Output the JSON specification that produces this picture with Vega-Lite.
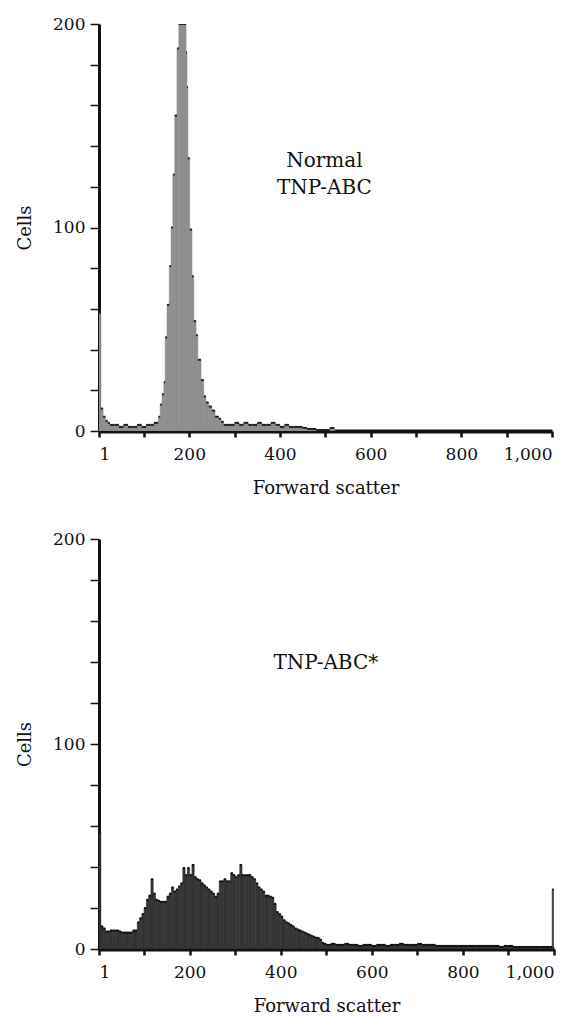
{
  "$schema": "https://vega.github.io/schema/vega-lite/v6.json",
  "padding": {"top": 15, "left": 16, "right": 6, "bottom": 0},
  "spacing": 33,
  "config": {
    "font": "DejaVu Serif",
    "view": {"stroke": null},
    "axis": {
      "grid": false,
      "domainColor": "#111111",
      "tickColor": "#111111",
      "labelColor": "#111111",
      "titleColor": "#111111",
      "labelFont": "DejaVu Serif",
      "titleFont": "DejaVu Serif",
      "labelFontSize": 17,
      "titleFontSize": 18,
      "titleFontWeight": "normal",
      "labelOverlap": false
    },
    "axisX": {
      "tickSize": 6,
      "tickWidth": 2.5,
      "domainWidth": 4,
      "labelPadding": 9,
      "titlePadding": 17
    },
    "axisY": {
      "tickSize": 9,
      "tickWidth": 1.5,
      "domainWidth": 3,
      "labelPadding": 5,
      "titlePadding": 18
    }
  },
  "datasets": {
    "normal": [
      {"start": 1, "end": 5, "cells": 58},
      {"start": 5, "end": 10, "cells": 11},
      {"start": 10, "end": 15, "cells": 7},
      {"start": 15, "end": 20, "cells": 5},
      {"start": 20, "end": 25, "cells": 4},
      {"start": 25, "end": 35, "cells": 3},
      {"start": 35, "end": 45, "cells": 3},
      {"start": 45, "end": 55, "cells": 2},
      {"start": 55, "end": 65, "cells": 3},
      {"start": 65, "end": 75, "cells": 2},
      {"start": 75, "end": 85, "cells": 2},
      {"start": 85, "end": 95, "cells": 3},
      {"start": 95, "end": 105, "cells": 2},
      {"start": 105, "end": 115, "cells": 3},
      {"start": 115, "end": 122, "cells": 3},
      {"start": 122, "end": 132, "cells": 4},
      {"start": 132, "end": 136, "cells": 7},
      {"start": 136, "end": 140, "cells": 13},
      {"start": 140, "end": 144, "cells": 18},
      {"start": 144, "end": 147, "cells": 24},
      {"start": 147, "end": 151, "cells": 46},
      {"start": 151, "end": 156, "cells": 62},
      {"start": 156, "end": 160, "cells": 81},
      {"start": 160, "end": 164, "cells": 100},
      {"start": 164, "end": 168, "cells": 126},
      {"start": 168, "end": 173, "cells": 155},
      {"start": 173, "end": 177, "cells": 188},
      {"start": 177, "end": 193, "cells": 200},
      {"start": 193, "end": 195, "cells": 186},
      {"start": 195, "end": 197, "cells": 169},
      {"start": 197, "end": 201, "cells": 134},
      {"start": 201, "end": 206, "cells": 99},
      {"start": 206, "end": 210, "cells": 76},
      {"start": 210, "end": 215, "cells": 54},
      {"start": 215, "end": 219, "cells": 47},
      {"start": 219, "end": 226, "cells": 35},
      {"start": 226, "end": 232, "cells": 25},
      {"start": 232, "end": 237, "cells": 17},
      {"start": 237, "end": 243, "cells": 14},
      {"start": 243, "end": 250, "cells": 12},
      {"start": 250, "end": 257, "cells": 10},
      {"start": 257, "end": 265, "cells": 7},
      {"start": 265, "end": 270, "cells": 6},
      {"start": 270, "end": 276, "cells": 4.5},
      {"start": 276, "end": 290, "cells": 3},
      {"start": 290, "end": 300, "cells": 3},
      {"start": 300, "end": 310, "cells": 4},
      {"start": 310, "end": 320, "cells": 3},
      {"start": 320, "end": 330, "cells": 4},
      {"start": 330, "end": 340, "cells": 3},
      {"start": 340, "end": 350, "cells": 3},
      {"start": 350, "end": 360, "cells": 4},
      {"start": 360, "end": 370, "cells": 3},
      {"start": 370, "end": 380, "cells": 3},
      {"start": 380, "end": 390, "cells": 4},
      {"start": 390, "end": 400, "cells": 3},
      {"start": 400, "end": 410, "cells": 2},
      {"start": 410, "end": 420, "cells": 3},
      {"start": 420, "end": 430, "cells": 2},
      {"start": 430, "end": 440, "cells": 2},
      {"start": 440, "end": 450, "cells": 2},
      {"start": 450, "end": 460, "cells": 1.5},
      {"start": 460, "end": 480, "cells": 1},
      {"start": 480, "end": 510, "cells": 0.5},
      {"start": 510, "end": 520, "cells": 1.5}
    ],
    "starred": [
      {"start": 1, "end": 5, "cells": 57},
      {"start": 5, "end": 10, "cells": 11},
      {"start": 10, "end": 15, "cells": 10},
      {"start": 15, "end": 20, "cells": 8.5},
      {"start": 20, "end": 25, "cells": 8.5},
      {"start": 25, "end": 30, "cells": 9},
      {"start": 30, "end": 35, "cells": 9},
      {"start": 35, "end": 40, "cells": 9},
      {"start": 40, "end": 45, "cells": 9},
      {"start": 45, "end": 50, "cells": 8.5},
      {"start": 50, "end": 55, "cells": 8},
      {"start": 55, "end": 60, "cells": 8},
      {"start": 60, "end": 65, "cells": 8},
      {"start": 65, "end": 70, "cells": 8},
      {"start": 70, "end": 75, "cells": 8},
      {"start": 75, "end": 80, "cells": 9},
      {"start": 80, "end": 85, "cells": 9},
      {"start": 85, "end": 90, "cells": 13},
      {"start": 90, "end": 95, "cells": 15},
      {"start": 95, "end": 100, "cells": 17},
      {"start": 100, "end": 105, "cells": 20},
      {"start": 105, "end": 110, "cells": 24},
      {"start": 110, "end": 115, "cells": 26},
      {"start": 115, "end": 120, "cells": 34},
      {"start": 120, "end": 125, "cells": 27},
      {"start": 125, "end": 130, "cells": 24},
      {"start": 130, "end": 135, "cells": 23.5},
      {"start": 135, "end": 140, "cells": 23},
      {"start": 140, "end": 145, "cells": 23},
      {"start": 145, "end": 150, "cells": 23},
      {"start": 150, "end": 155, "cells": 25.5},
      {"start": 155, "end": 160, "cells": 27},
      {"start": 160, "end": 165, "cells": 30},
      {"start": 165, "end": 170, "cells": 28},
      {"start": 170, "end": 175, "cells": 29},
      {"start": 175, "end": 180, "cells": 30.5},
      {"start": 180, "end": 185, "cells": 32},
      {"start": 185, "end": 190, "cells": 39.5},
      {"start": 190, "end": 195, "cells": 36},
      {"start": 195, "end": 200, "cells": 39.5},
      {"start": 200, "end": 205, "cells": 36},
      {"start": 205, "end": 210, "cells": 41},
      {"start": 210, "end": 215, "cells": 35},
      {"start": 215, "end": 220, "cells": 34},
      {"start": 220, "end": 225, "cells": 33.5},
      {"start": 225, "end": 230, "cells": 32},
      {"start": 230, "end": 235, "cells": 31},
      {"start": 235, "end": 240, "cells": 30},
      {"start": 240, "end": 245, "cells": 29},
      {"start": 245, "end": 250, "cells": 28},
      {"start": 250, "end": 255, "cells": 27},
      {"start": 255, "end": 260, "cells": 25.5},
      {"start": 260, "end": 265, "cells": 27},
      {"start": 265, "end": 270, "cells": 33},
      {"start": 270, "end": 275, "cells": 33},
      {"start": 275, "end": 280, "cells": 34},
      {"start": 280, "end": 285, "cells": 33},
      {"start": 285, "end": 290, "cells": 33},
      {"start": 290, "end": 295, "cells": 37},
      {"start": 295, "end": 300, "cells": 36},
      {"start": 300, "end": 305, "cells": 35},
      {"start": 305, "end": 310, "cells": 36},
      {"start": 310, "end": 315, "cells": 41},
      {"start": 315, "end": 320, "cells": 36},
      {"start": 320, "end": 325, "cells": 36},
      {"start": 325, "end": 330, "cells": 36},
      {"start": 330, "end": 335, "cells": 36},
      {"start": 335, "end": 340, "cells": 35},
      {"start": 340, "end": 345, "cells": 34},
      {"start": 345, "end": 350, "cells": 32},
      {"start": 350, "end": 355, "cells": 30},
      {"start": 355, "end": 360, "cells": 29},
      {"start": 360, "end": 365, "cells": 28},
      {"start": 365, "end": 370, "cells": 26},
      {"start": 370, "end": 375, "cells": 26},
      {"start": 375, "end": 380, "cells": 25.5},
      {"start": 380, "end": 385, "cells": 25},
      {"start": 385, "end": 390, "cells": 22},
      {"start": 390, "end": 395, "cells": 18},
      {"start": 395, "end": 400, "cells": 17},
      {"start": 400, "end": 405, "cells": 15.8},
      {"start": 405, "end": 410, "cells": 14},
      {"start": 410, "end": 415, "cells": 13},
      {"start": 415, "end": 420, "cells": 12.5},
      {"start": 420, "end": 425, "cells": 11.7},
      {"start": 425, "end": 430, "cells": 11},
      {"start": 430, "end": 435, "cells": 10},
      {"start": 435, "end": 440, "cells": 9.5},
      {"start": 440, "end": 445, "cells": 9},
      {"start": 445, "end": 450, "cells": 8.5},
      {"start": 450, "end": 455, "cells": 8},
      {"start": 455, "end": 460, "cells": 7.5},
      {"start": 460, "end": 465, "cells": 7},
      {"start": 465, "end": 470, "cells": 6.5},
      {"start": 470, "end": 475, "cells": 6},
      {"start": 475, "end": 480, "cells": 5.5},
      {"start": 480, "end": 485, "cells": 5.4},
      {"start": 485, "end": 490, "cells": 4.5},
      {"start": 490, "end": 495, "cells": 3},
      {"start": 495, "end": 500, "cells": 2.5},
      {"start": 500, "end": 510, "cells": 2},
      {"start": 510, "end": 520, "cells": 2.5},
      {"start": 520, "end": 530, "cells": 2},
      {"start": 530, "end": 540, "cells": 2},
      {"start": 540, "end": 550, "cells": 2.5},
      {"start": 550, "end": 560, "cells": 2},
      {"start": 560, "end": 570, "cells": 2},
      {"start": 570, "end": 580, "cells": 1.5},
      {"start": 580, "end": 590, "cells": 2},
      {"start": 590, "end": 600, "cells": 2},
      {"start": 600, "end": 610, "cells": 1.5},
      {"start": 610, "end": 620, "cells": 2},
      {"start": 620, "end": 630, "cells": 2},
      {"start": 630, "end": 640, "cells": 1.5},
      {"start": 640, "end": 650, "cells": 2},
      {"start": 650, "end": 660, "cells": 2},
      {"start": 660, "end": 670, "cells": 2.5},
      {"start": 670, "end": 680, "cells": 2},
      {"start": 680, "end": 690, "cells": 2},
      {"start": 690, "end": 700, "cells": 2},
      {"start": 700, "end": 710, "cells": 2.5},
      {"start": 710, "end": 720, "cells": 2},
      {"start": 720, "end": 730, "cells": 2},
      {"start": 730, "end": 740, "cells": 2},
      {"start": 740, "end": 750, "cells": 1.5},
      {"start": 750, "end": 760, "cells": 1.5},
      {"start": 760, "end": 770, "cells": 1.5},
      {"start": 770, "end": 780, "cells": 1.5},
      {"start": 780, "end": 790, "cells": 1.5},
      {"start": 790, "end": 800, "cells": 1.5},
      {"start": 800, "end": 810, "cells": 1.5},
      {"start": 810, "end": 820, "cells": 1.5},
      {"start": 820, "end": 830, "cells": 1.5},
      {"start": 830, "end": 840, "cells": 1.5},
      {"start": 840, "end": 850, "cells": 1.5},
      {"start": 850, "end": 860, "cells": 1.5},
      {"start": 860, "end": 870, "cells": 1.5},
      {"start": 870, "end": 880, "cells": 1.5},
      {"start": 880, "end": 890, "cells": 1},
      {"start": 890, "end": 900, "cells": 1.5},
      {"start": 900, "end": 910, "cells": 1.5},
      {"start": 910, "end": 920, "cells": 1},
      {"start": 920, "end": 930, "cells": 1},
      {"start": 930, "end": 940, "cells": 1},
      {"start": 940, "end": 950, "cells": 1},
      {"start": 950, "end": 960, "cells": 1},
      {"start": 960, "end": 970, "cells": 1},
      {"start": 970, "end": 980, "cells": 1},
      {"start": 980, "end": 990, "cells": 1},
      {"start": 990, "end": 996, "cells": 1},
      {"start": 996, "end": 999, "cells": 29}
    ]
  },
  "vconcat": [
    {
      "width": 453,
      "height": 407,
      "layer": [
        {
          "data": {"name": "normal"},
          "mark": {"type": "rect", "fill": "#8e8e8e", "stroke": "#8e8e8e", "strokeWidth": 0.6, "clip": true},
          "encoding": {
            "x": {"field": "start", "type": "quantitative", "scale": {"domain": [1, 1000], "nice": false, "zero": false},
              "axis": {"title": "Forward scatter", "values": [1, 100, 200, 300, 400, 500, 600, 700, 800, 900, 1000], "labelExpr": "datum.value === 1 || datum.value % 200 === 0 ? format(datum.value, ',') : ''"}},
            "x2": {"field": "end"},
            "y": {"field": "cells", "type": "quantitative", "scale": {"domain": [0, 200], "nice": false, "zero": true},
              "axis": {"title": "Cells", "values": [0, 20, 40, 60, 80, 100, 120, 140, 160, 180, 200], "labelExpr": "datum.value % 100 === 0 ? format(datum.value, 'd') : ''"}},
            "y2": {"datum": 0}
          }
        },
        {
          "data": {"name": "normal"},
          "mark": {"type": "rule", "color": "#222", "strokeWidth": 2, "clip": true},
          "encoding": {
            "x": {"field": "start", "type": "quantitative"},
            "x2": {"field": "end"},
            "y": {"field": "cells", "type": "quantitative"}
          }
        },
        {
          "data": {"values": [{}]},
          "mark": {"type": "text", "text": ["Normal", "TNP-ABC"], "fontSize": 20, "lineHeight": 27, "font": "DejaVu Serif", "color": "#111111", "align": "center", "baseline": "middle"},
          "encoding": {
            "x": {"datum": 498, "type": "quantitative"},
            "y": {"datum": 132.5, "type": "quantitative"}
          }
        }
      ]
    },
    {
      "width": 455,
      "height": 410,
      "layer": [
        {
          "data": {"name": "starred"},
          "mark": {"type": "rect", "fill": "#333333", "stroke": "#333333", "strokeWidth": 0.6, "clip": true},
          "encoding": {
            "x": {"field": "start", "type": "quantitative", "scale": {"domain": [1, 1000], "nice": false, "zero": false},
              "axis": {"title": "Forward scatter", "values": [1, 100, 200, 300, 400, 500, 600, 700, 800, 900, 1000], "labelExpr": "datum.value === 1 || datum.value % 200 === 0 ? format(datum.value, ',') : ''"}},
            "x2": {"field": "end"},
            "y": {"field": "cells", "type": "quantitative", "scale": {"domain": [0, 200], "nice": false, "zero": true},
              "axis": {"title": "Cells", "values": [0, 20, 40, 60, 80, 100, 120, 140, 160, 180, 200], "labelExpr": "datum.value % 100 === 0 ? format(datum.value, 'd') : ''"}},
            "y2": {"datum": 0}
          }
        },
        {
          "data": {"name": "starred"},
          "mark": {"type": "rule", "color": "#111", "strokeWidth": 2, "clip": true},
          "encoding": {
            "x": {"field": "start", "type": "quantitative"},
            "x2": {"field": "end"},
            "y": {"field": "cells", "type": "quantitative"}
          }
        },
        {
          "data": {"values": [{}]},
          "mark": {"type": "text", "text": "TNP-ABC*", "fontSize": 20, "font": "DejaVu Serif", "color": "#111111", "align": "center", "baseline": "middle"},
          "encoding": {
            "x": {"datum": 499, "type": "quantitative"},
            "y": {"datum": 139.5, "type": "quantitative"}
          }
        }
      ]
    }
  ]
}
